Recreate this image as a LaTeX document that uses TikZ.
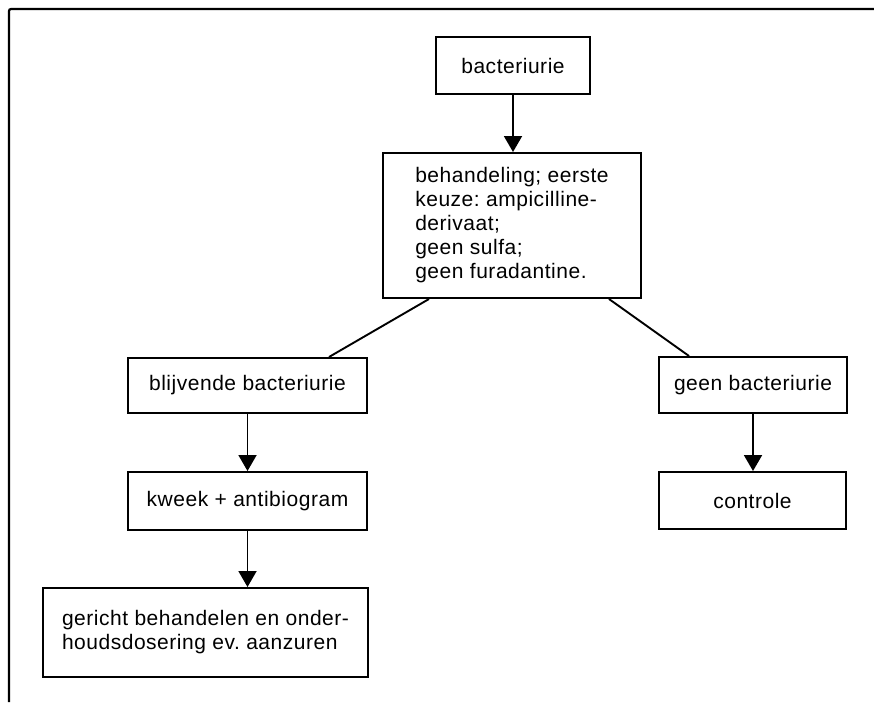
\documentclass[tikz,border=0pt]{standalone}
\usepackage{fontspec}
\setmainfont{Liberation Sans}[LetterSpace=2.5]
\usetikzlibrary{arrows.meta,calc}
\frenchspacing
\begin{document}
\begin{tikzpicture}[x=1pt,y=1pt,
  box/.style={draw, line width=2pt, inner sep=0pt, align=left,
    font=\fontsize{21}{24}\selectfont\frenchspacing},
  conn/.style={line width=1.9pt},
  arr/.style={line width=1.9pt, -{Triangle[length=16pt,width=18pt]}}]
\useasboundingbox (0,0) rectangle (874,-702);
% frame
\draw[line width=2.2pt, rounded corners=2pt] (9,-702) -- (9,-9) -- (874,-9);
% nodes
\node[box, minimum width=154, minimum height=57] (bac) at (513,-65.5) {bacteriurie};
\node[box, minimum width=258, minimum height=145] (beh) at (512,-225.5)
  {behandeling; eerste\\keuze: ampicilline-\\derivaat;\\geen sulfa;\\geen furadantine.};
\node[box, minimum width=239, minimum height=55] (blij) at (247.5,-385.5) {blijvende bacteriurie};
\node[box, minimum width=188, minimum height=56] (geen) at (753,-385) {geen bacteriurie};
\node[box, minimum width=239, minimum height=58] (kweek) at (247.5,-501) {kweek + antibiogram};
\node[box, minimum width=187, minimum height=57] (contr) at (752.5,-500.5) {controle};
\node[box, minimum width=325, minimum height=89] (ger) at (205.5,-632.5)
  {gericht behandelen en onder-\\houdsdosering ev. aanzuren};
% connectors
\draw[arr] (bac.south) -- (bac.south |- beh.north);
\draw[conn] ([xshift=47pt]beh.south west) -- ([xshift=202pt]blij.north west);
\draw[conn] ([xshift=227pt]beh.south west) -- ([xshift=31pt]geen.north west);
\draw[arr] (blij.south) -- (blij.south |- kweek.north);
\draw[arr] (kweek.south) -- (kweek.south |- ger.north);
\draw[arr] (geen.south) -- (geen.south |- contr.north);
\end{tikzpicture}
\end{document}
